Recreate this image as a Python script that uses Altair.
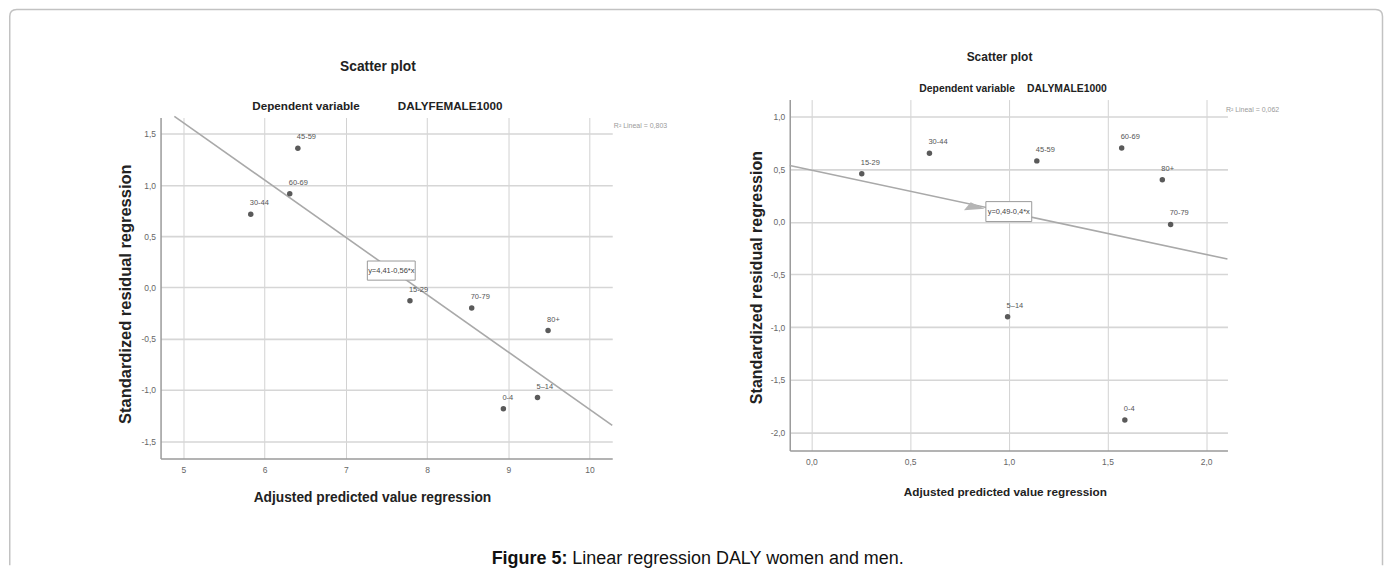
import altair as alt
import pandas as pd

FONT = "Liberation Sans, Arial, sans-serif"

# ---------------- Female panel data ----------------
f_groups = ["45-59", "60-69", "30-44", "15-29", "70-79", "80+", "5–14", "0-4"]
f_x = [6.41, 6.31, 5.83, 7.79, 8.55, 9.49, 9.36, 8.94]
f_y = [1.36, 0.915, 0.715, -0.13, -0.20, -0.42, -1.075, -1.185]
f_intercept, f_slope = 4.41, -0.56
f_line_x = [4.89, 10.28]
f_eq_text = ["y=4,41-0,56*x"]
f_eq_pos = [7.56, 0.165]
f_r2_text = ["R² Lineal = 0,803"]
f_r2_pos = [10.30, 1.575]
f_xticks = [5, 6, 7, 8, 9, 10]
f_yticks = [-1.5, -1.0, -0.5, 0.0, 0.5, 1.0, 1.5]
f_xdomain = [4.72, 10.28]
f_ydomain = [-1.67, 1.66]

# ---------------- Male panel data ----------------
m_groups = ["15-29", "30-44", "45-59", "60-69", "80+", "70-79", "5–14", "0-4"]
m_x = [0.255, 0.598, 1.142, 1.572, 1.778, 1.82, 0.994, 1.588]
m_y = [0.456, 0.651, 0.578, 0.70, 0.40, -0.025, -0.90, -1.88]
m_intercept, m_slope = 0.49, -0.4
m_line_x = [-0.11, 2.108]
m_eq_text = ["y=0,49-0,4*x"]
m_eq_pos = [1.0, 0.097]
m_arrow_pos = [0.819, 0.139]
m_r2_text = ["R² Lineal = 0,062"]
m_r2_pos = [2.10, 1.06]
m_xticks = [0.0, 0.5, 1.0, 1.5, 2.0]
m_yticks = [-2.0, -1.5, -1.0, -0.5, 0.0, 0.5, 1.0]
m_xdomain = [-0.11, 2.108]
m_ydomain = [-2.17, 1.16]

caption_bold = "Figure 5:"
caption_rest = "Linear regression DALY women and men."

COMMA = "replace(replace(format(datum.value, '.1f'), '.', ','), '\u2212', '-')"
INTL = "format(datum.value, 'd')"

# open rounded frame (left, top, right sides) around the whole figure
FRAME_PATH = ("M-0.98339,0.39804 L-0.98339,-0.38804 Q-0.98339,-0.39804 -0.97339,-0.39804 "
              "L0.97339,-0.39804 Q0.98339,-0.39804 0.98339,-0.38804 L0.98339,0.39804")


def panel(groups, xs, ys, intercept, slope, line_x, eq_text, eq_pos, r2_text, r2_pos,
          xticks, yticks, xdomain, ydomain, xlabel_expr, width, height,
          xt, yt, titles, box_shape, box_size, fs, arrow_pos=None, caption=None, frame=None):
    xs_ = alt.Scale(domain=xdomain, nice=False, zero=False)
    ys_ = alt.Scale(domain=ydomain, nice=False, zero=False)
    common = dict(ticks=False, tickSize=0, domain=True, domainColor="#9a9a9a", domainWidth=1.5,
                  labelFont=FONT, labelFontSize=8.5, labelColor="#666666")
    xaxis = alt.Axis(values=xticks, labelExpr=xlabel_expr, grid=True, gridColor="#d2d2d2",
                     gridWidth=1, labelPadding=7, labelBaseline="top", labelAngle=0,
                     title="Adjusted predicted value regression", titleFont=FONT,
                     titleFontSize=fs["xt"], titleFontWeight="bold", titleColor="#222222",
                     titleBaseline="middle", titleAlign="center", titleX=xt[0], titleY=xt[1],
                     **common)
    yaxis = alt.Axis(values=yticks, labelExpr=COMMA, grid=True, gridColor="#d6d6d6",
                     gridWidth=1.6, labelPadding=5,
                     title="Standardized residual regression", titleFont=FONT,
                     titleFontSize=fs["yt"], titleFontWeight="bold", titleColor="#222222",
                     titleBaseline="middle", titleAlign="center", titleAngle=270,
                     titleX=yt[0], titleY=yt[1], **common)

    def X():
        return alt.X("x:Q", scale=xs_, axis=xaxis)

    def Y():
        return alt.Y("y:Q", scale=ys_, axis=yaxis)

    pts = pd.DataFrame({"g": groups, "x": xs, "y": ys})
    points = alt.Chart(pts).mark_circle(size=30, color="#5a5a5a", opacity=1).encode(x=X(), y=Y())
    labels = alt.Chart(pts).mark_text(align="left", baseline="middle", dx=-1, dy=-11,
                                      font=FONT, fontSize=7.5, color="#555555").encode(
        x=X(), y=Y(), text="g:N")

    ldf = pd.DataFrame({"x": line_x})
    line = alt.Chart(ldf).transform_calculate(
        y=f"{intercept} + ({slope}) * datum.x"
    ).mark_line(color="#a9a9a9", strokeWidth=1.6).encode(x=X(), y=Y())

    edf = pd.DataFrame({"x": [eq_pos[0]], "y": [eq_pos[1]], "t": eq_text})
    box = alt.Chart(edf).mark_point(shape=box_shape, size=box_size, filled=True, fill="white",
                                    stroke="#9a9a9a", strokeWidth=1, opacity=1).encode(x=X(), y=Y())
    eqt = alt.Chart(edf).mark_text(font=FONT, fontSize=7.5, color="#444444",
                                   baseline="middle").encode(x=X(), y=Y(), text="t:N")

    rdf = pd.DataFrame({"x": [r2_pos[0]], "y": [r2_pos[1]], "t": r2_text})
    r2 = alt.Chart(rdf).mark_text(font=FONT, fontSize=7, color="#9a9a9a", align="left",
                                  baseline="middle").encode(x=X(), y=Y(), text="t:N")

    layers = [line, box, eqt, points, labels, r2]

    if arrow_pos is not None:
        adf = pd.DataFrame({"x": [arrow_pos[0]], "y": [arrow_pos[1]]})
        arrow = alt.Chart(adf).mark_point(shape="M-0.76,0.26L-0.2,-0.41L0.97,0.14Z", size=576,
                                          filled=True, color="#b5b5b5", opacity=1).encode(x=X(), y=Y())
        layers.insert(1, arrow)

    one = pd.DataFrame({"k": [0]})
    for (txt, px, py, size, align) in titles:
        layers.append(alt.Chart(one).mark_text(font=FONT, fontSize=size, fontWeight="bold",
                                               color="#222222", align=align, baseline="middle").encode(
            x=alt.value(px), y=alt.value(py), text=alt.value(txt)))

    if caption is not None:
        cx, cy = caption
        layers.append(alt.Chart(one).mark_text(font=FONT, fontSize=18, fontWeight="bold",
                                               color="#111111", align="right", baseline="middle").encode(
            x=alt.value(cx), y=alt.value(cy), text=alt.value(caption_bold)))
        layers.append(alt.Chart(one).mark_text(font=FONT, fontSize=18, color="#111111",
                                               align="left", baseline="middle").encode(
            x=alt.value(cx + 5), y=alt.value(cy), text=alt.value(caption_rest)))

    if frame is not None:
        fx, fy = frame
        layers.append(alt.Chart(one).mark_point(shape=FRAME_PATH, size=1960000, filled=False,
                                                stroke="#c2c2c2", strokeWidth=1.5, opacity=1).encode(
            x=alt.value(fx), y=alt.value(fy)))

    return alt.layer(*layers).properties(width=width, height=height)


left = panel(f_groups, f_x, f_y, f_intercept, f_slope, f_line_x, f_eq_text, f_eq_pos,
             f_r2_text, f_r2_pos, f_xticks, f_yticks, f_xdomain, f_ydomain, INTL,
             width=453, height=342,
             xt=(212, 39), yt=(-35.6, 176.7),
             titles=[("Scatter plot", 218, -51, 13.8, "center"),
                     ("Dependent variable", 92, -11.3, 11.7, "left"),
                     ("DALYFEMALE1000", 238, -11.3, 11.7, "left")],
             box_shape="M-1,-0.4L1,-0.4L1,0.4L-1,0.4Z", box_size=2304,
             fs={"xt": 13.8, "yt": 16.5}, caption=(408, 443), frame=(537.125, 170.375))

right = panel(m_groups, m_x, m_y, m_intercept, m_slope, m_line_x, m_eq_text, m_eq_pos,
              m_r2_text, m_r2_pos, m_xticks, m_yticks, m_xdomain, m_ydomain, COMMA,
              width=439, height=352,
              xt=(215.8, 41.3), yt=(-33.7, 178),
              titles=[("Scatter plot", 210.4, -42.3, 12, "center"),
                      ("Dependent variable", 130, -10.7, 10.4, "left"),
                      ("DALYMALE1000", 238, -10.7, 10.4, "left")],
              box_shape="M-1,-0.435L1,-0.435L1,0.435L-1,0.435Z", box_size=2116,
              fs={"xt": 11.8, "yt": 16.1}, arrow_pos=m_arrow_pos)

spacer = alt.Chart(pd.DataFrame({"k": [0]})).mark_text(text="").encode(
    x=alt.value(0), y=alt.value(0)).properties(width=453, height=18)

left_col = alt.vconcat(spacer, left, spacing=0, bounds="flush")

chart = alt.hconcat(left_col, right, spacing=631, bounds="flush").properties(
    padding={"left": -2, "top": -3, "right": 0, "bottom": 0}
).configure(background="white").configure_view(stroke=None, strokeWidth=0)

chart.save("out.html", embed_options={"renderer": "svg", "actions": False})
